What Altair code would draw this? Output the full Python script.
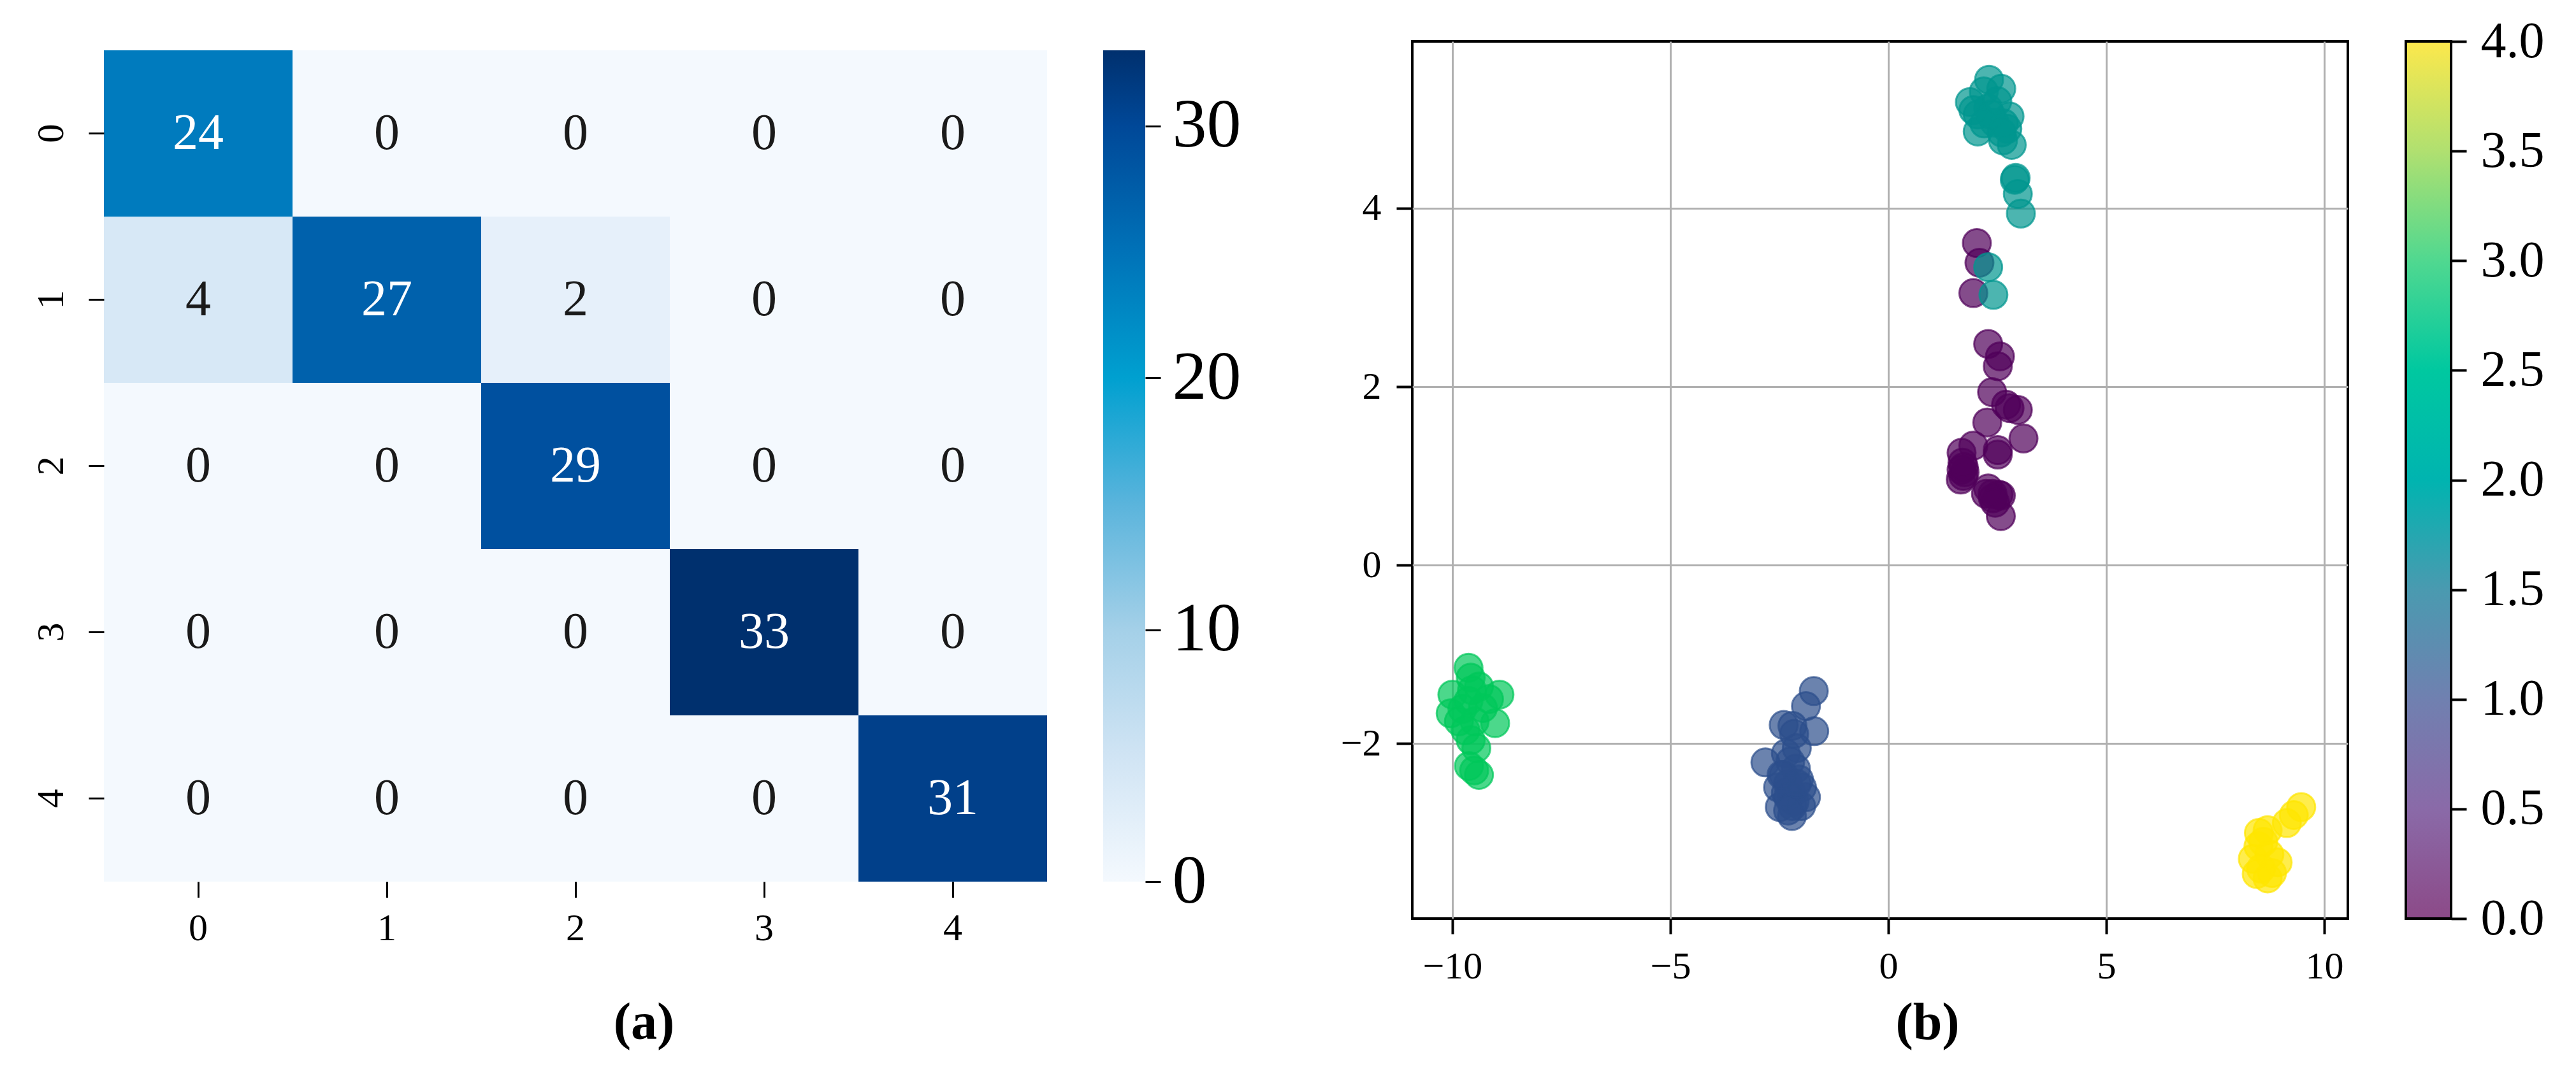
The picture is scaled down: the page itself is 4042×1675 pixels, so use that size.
import altair as alt
import pandas as pd

FONT = "Liberation Serif"

# ---------------- (a) confusion matrix ----------------
cm_classes = [0, 1, 2, 3, 4]
cm_matrix = [
    [24, 0, 0, 0, 0],
    [4, 27, 2, 0, 0],
    [0, 0, 29, 0, 0],
    [0, 0, 0, 33, 0],
    [0, 0, 0, 0, 31],
]
cm_color_stops = [0, 5, 10, 15, 20, 25, 30, 33]
cm_color_hex = ["#f4f9fe", "#d0e4f4", "#a4d0e8", "#5ab4dc",
                "#00a0d0", "#0072b8", "#004898", "#00306e"]
cm_cbar_ticks = [0, 10, 20, 30]

# ---------------- (b) 2-D embedding ----------------
emb_class0_x = [2.03, 2.09, 1.95, 2.29, 2.56, 2.51, 2.38, 2.70, 2.97, 2.78, 2.27, 3.10, 1.95, 1.68,
                2.51, 2.51, 1.68, 1.66, 1.75, 1.72, 2.29, 2.53, 2.39, 2.58, 2.58, 2.24, 2.45, 1.70,
                2.40, 1.73]
emb_class0_y = [3.61, 3.39, 3.05, 2.48, 2.34, 2.23, 1.94, 1.80, 1.74, 1.76, 1.60, 1.42, 1.34, 1.26,
                1.29, 1.24, 1.07, 0.96, 1.04, 1.00, 0.86, 0.79, 0.80, 0.78, 0.55, 0.80, 0.70, 1.15,
                0.75, 1.10]

emb_class1_x = [-1.71, -1.89, -1.70, -2.40, -2.16, -2.20, -2.82, -2.35, -2.40, -1.89, -2.53,
                -2.21, -2.49, -2.21, -1.98, -2.12, -2.30, -2.15, -2.05, -2.30, -2.25, -2.10,
                -2.35, -2.45, -2.20, -2.00, -2.30, -2.10]
emb_class1_y = [-1.41, -1.58, -1.86, -1.79, -1.89, -1.80, -2.21, -2.11, -2.35, -2.60, -2.49,
                -2.56, -2.71, -2.81, -2.49, -2.28, -2.45, -2.65, -2.40, -2.60, -2.20, -2.05,
                -2.55, -2.35, -2.70, -2.70, -2.75, -2.45]

emb_class2_x = [2.31, 2.59, 1.87, 2.05, 2.05, 2.78, 2.83, 2.63, 2.29, 2.44, 2.73, 2.19, 1.95,
                2.50, 2.20, 2.65, 2.90, 2.97, 2.92, 3.04, 2.29, 2.41, 2.35, 2.60]
emb_class2_y = [5.44, 5.34, 5.19, 5.05, 4.86, 5.03, 4.71, 4.76, 5.12, 4.96, 4.89, 5.31, 5.10,
                5.20, 4.95, 4.95, 4.32, 4.16, 4.34, 3.94, 3.34, 3.03, 5.05, 4.85]

emb_class3_x = [-9.63, -9.58, -10.00, -8.92, -9.39, -10.04, -9.02, -9.49, -9.77, -9.58,
                -9.39, -9.62, -9.16, -9.63, -9.70, -9.45, -9.30, -9.85, -9.50, -9.55]
emb_class3_y = [-1.15, -1.26, -1.45, -1.45, -1.36, -1.66, -1.77, -1.75, -1.61, -1.96,
                -2.35, -2.25, -1.50, -1.52, -1.85, -2.05, -1.60, -1.75, -2.30, -1.40]

emb_class4_x = [9.47, 9.14, 8.70, 8.49, 8.93, 8.45, 8.70, 8.36, 8.74, 8.60, 8.55, 8.80, 9.30, 8.50]
emb_class4_y = [-2.71, -2.89, -2.97, -3.15, -3.33, -3.46, -3.51, -3.29, -3.24, -3.10, -3.40,
                -3.45, -2.80, -3.00]

emb_class_colors = ["#50005a", "#2c4f8c", "#00968e", "#00c85a", "#ffe600"]
emb_cbar_stops = [0.0, 0.5, 1.0, 1.5, 2.0, 2.5, 3.0, 3.5, 4.0]
emb_cbar_hex = ["#8c4a88", "#8a6aa8", "#7080b0", "#4a9ab0", "#00b4b0",
                "#00c8a0", "#50d890", "#b0e070", "#fce84c"]
emb_x_ticks = [-10, -5, 0, 5, 10]
emb_y_ticks = [-2, 0, 2, 4]

# ---------------- build tables ----------------
cm_df = pd.DataFrame([
    {"row": r, "col": c, "v": cm_matrix[r][c]}
    for r in range(len(cm_classes)) for c in range(len(cm_classes))
])

xs = [emb_class0_x, emb_class1_x, emb_class2_x, emb_class3_x, emb_class4_x]
ys = [emb_class0_y, emb_class1_y, emb_class2_y, emb_class3_y, emb_class4_y]
pts = []
for lab in range(5):
    for a, b in zip(xs[lab], ys[lab]):
        pts.append({"x": a, "y": b, "label": lab})
pts_df = pd.DataFrame(pts)

# ---------------- heatmap ----------------
heat_rect = alt.Chart(cm_df).mark_rect().encode(
    x=alt.X("col:O", axis=alt.Axis(
        title="(a)", titleX=847, titleY=246, titleAlign="center",
        titleBaseline="alphabetic", titleFontSize=82, titleFontWeight="bold",
        labelAngle=0, labelFontSize=60, labelPadding=19,
        tickSize=25, tickWidth=3, domain=False)),
    y=alt.Y("row:O", axis=alt.Axis(
        title=None, labelAngle=270, labelAlign="center", labelBaseline="bottom",
        labelFontSize=60, labelPadding=28, tickSize=24, tickWidth=3, domain=False)),
    color=alt.Color("v:Q", scale=alt.Scale(domain=cm_color_stops, range=cm_color_hex),
                    legend=None),
)
heat_text = alt.Chart(cm_df).mark_text(font=FONT, fontSize=80, baseline="middle").encode(
    x="col:O",
    y="row:O",
    text="v:Q",
    color=alt.condition("datum.v > 15", alt.value("white"), alt.value("#1a1a1a")),
)
heatmap = (heat_rect + heat_text).properties(width=1480, height=1305)

cb1_df = pd.DataFrame({"lo": [cm_color_stops[0]], "hi": [cm_color_stops[-1]]})
cb1 = alt.Chart(cb1_df).mark_rect(
    color=alt.Gradient(
        gradient="linear",
        stops=[alt.GradientStop(color=c, offset=v / cm_color_stops[-1])
               for v, c in zip(cm_color_stops, cm_color_hex)],
        x1=0, x2=0, y1=1, y2=0)
).encode(
    y=alt.Y("lo:Q", scale=alt.Scale(domain=[cm_color_stops[0], cm_color_stops[-1]], nice=False),
            axis=alt.Axis(orient="right", values=cm_cbar_ticks, title=None, grid=False,
                          domain=False, tickSize=24, tickWidth=3, labelFontSize=108,
                          labelPadding=18)),
    y2="hi:Q",
    x=alt.value(0),
    x2=alt.value(66),
).properties(width=66, height=1305)

spacer = alt.Chart(pd.DataFrame({"v": [0]})).mark_point(opacity=0).encode(
    x=alt.value(0), y=alt.value(0)
).properties(width=10, height=1)

# ---------------- scatter ----------------
scatter = alt.Chart(pts_df).mark_circle(
    size=1936, fillOpacity=0.7, strokeOpacity=0.7, strokeWidth=3, opacity=1
).encode(
    x=alt.X("x:Q", scale=alt.Scale(domain=[-10.92, 10.54], nice=False, zero=False),
            axis=alt.Axis(values=emb_x_ticks, title="(b)", titleX=808, titleY=188,
                          titleAlign="center", titleBaseline="alphabetic",
                          titleFontSize=82, titleFontWeight="bold",
                          grid=True, gridColor="#b0b0b0", gridWidth=3, domain=False,
                          tickSize=24, tickWidth=4, labelFontSize=60, labelPadding=22,
                          labelFlush=False)),
    y=alt.Y("y:Q", scale=alt.Scale(domain=[-3.96, 5.87], nice=False, zero=False),
            axis=alt.Axis(values=emb_y_ticks, title=None, grid=True, gridColor="#b0b0b0",
                          gridWidth=3, domain=False, tickSize=25, tickWidth=4,
                          labelFontSize=60, labelPadding=24)),
    fill=alt.Fill("label:Q", scale=alt.Scale(domain=[0, 1, 2, 3, 4], range=emb_class_colors),
                  legend=None),
    stroke=alt.Stroke("label:Q", scale=alt.Scale(domain=[0, 1, 2, 3, 4], range=emb_class_colors),
                      legend=None),
).properties(width=1468, height=1377,
             view=alt.ViewBackground(stroke="black", strokeWidth=4))

cb2_df = pd.DataFrame({"lo": [emb_cbar_stops[0]], "hi": [emb_cbar_stops[-1]]})
cb2 = alt.Chart(cb2_df).mark_rect(
    color=alt.Gradient(
        gradient="linear",
        stops=[alt.GradientStop(color=c, offset=v / emb_cbar_stops[-1])
               for v, c in zip(emb_cbar_stops, emb_cbar_hex)],
        x1=0, x2=0, y1=1, y2=0),
    stroke="black", strokeWidth=4,
).encode(
    y=alt.Y("lo:Q", scale=alt.Scale(domain=[emb_cbar_stops[0], emb_cbar_stops[-1]], nice=False),
            axis=alt.Axis(orient="right", values=emb_cbar_stops, format=".1f", title=None,
                          grid=False, domain=False, tickSize=24, tickWidth=4,
                          labelFontSize=80, labelPadding=22)),
    y2="hi:Q",
    x=alt.value(0),
    x2=alt.value(71),
).properties(width=71, height=1377)

left = alt.vconcat(spacer, alt.hconcat(heatmap, cb1, spacing=88, bounds="flush"),
                   spacing=13, bounds="flush")
right = alt.hconcat(scatter, cb2, spacing=91, bounds="flush")

chart = alt.hconcat(left, right, spacing=154).configure_view(
    strokeWidth=0
).configure_axis(
    labelFont=FONT, titleFont=FONT, labelColor="black", tickColor="black",
    titleColor="black"
).properties(
    padding={"left": 42, "top": 17, "right": 5, "bottom": 5},
    background="white",
)

chart.save("out.html", embed_options={"renderer": "svg", "actions": False})
